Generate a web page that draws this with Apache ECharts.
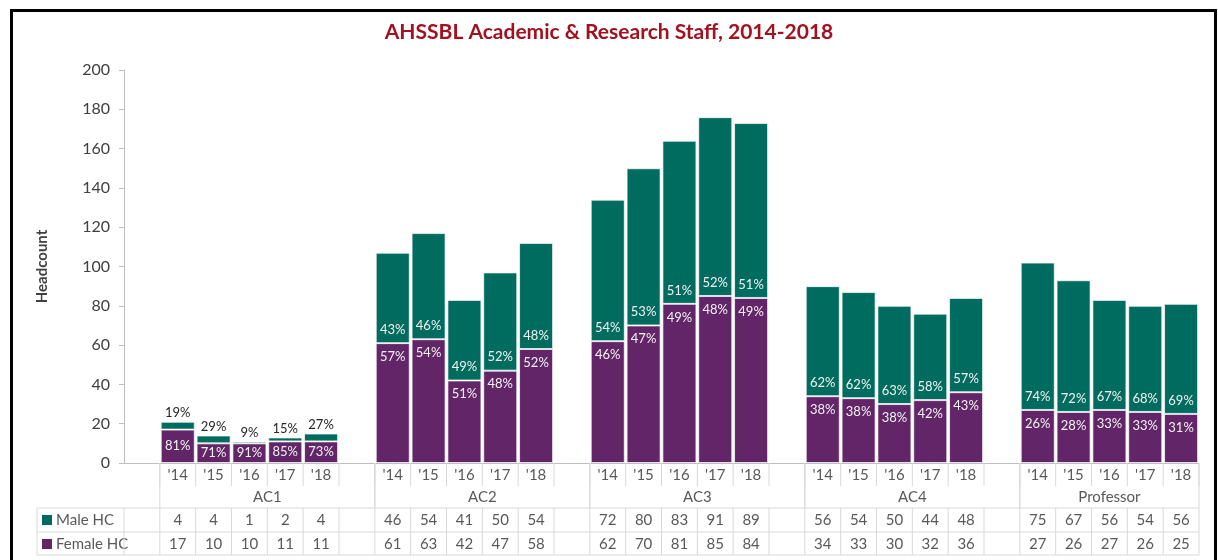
<!DOCTYPE html>
<html>
<head>
<meta charset="utf-8">
<script src="https://cdn.jsdelivr.net/npm/echarts@6/dist/echarts.min.js"></script>
<style>
  html, body { margin: 0; padding: 0; background: #fff; }
  #main { width: 1218px; height: 560px; }
</style>
</head>
<body>
<div id="main"></div>
<script>
var groups = ['AC1', 'AC2', 'AC3', 'AC4', 'Professor'];
var years = ["'14", "'15", "'16", "'17", "'18"];
var maleHC = [4, 4, 1, 2, 4, 46, 54, 41, 50, 54, 72, 80, 83, 91, 89, 56, 54, 50, 44, 48, 75, 67, 56, 54, 56];
var femaleHC = [17, 10, 10, 11, 11, 61, 63, 42, 47, 58, 62, 70, 81, 85, 84, 34, 33, 30, 32, 36, 27, 26, 27, 26, 25];
var malePct = [19, 29, 9, 15, 27, 43, 46, 49, 52, 48, 54, 53, 51, 52, 51, 62, 62, 63, 58, 57, 74, 72, 67, 68, 69];
var femalePct = [81, 71, 91, 85, 73, 57, 54, 51, 48, 52, 46, 47, 49, 48, 49, 38, 38, 38, 42, 43, 26, 28, 33, 33, 31];

var MALE = '#006b5f';
var FEMALE = '#622567';
var LINE = '#d9d9d9';
var TXT = '#595959';
var FONT = 'Lato, "Open Sans", sans-serif';

// grid geometry (px)
var W = 1218, H = 560;
var gLeft = 124, gRight = 19, gTop = 70, gBottom = 97;
var axisY = H - gBottom;

// slots: empty slot before AC1 and after every group except the last
var slots = ['gap0'];
var slotIdx = [];
slotIdx.push(-1);
groups.forEach(function (g, gi) {
  years.forEach(function (y, yi) {
    slots.push(g + ' ' + y);
    slotIdx.push(gi * years.length + yi);
  });
  if (gi < groups.length - 1) {
    slots.push('gap' + (gi + 1));
    slotIdx.push(-1);
  }
});

var maleData = slotIdx.map(function (k) {
  if (k < 0) return '-';
  var item = { value: maleHC[k] };
  if (k < years.length) {
    item.label = { position: 'top', color: '#262626', distance: 2 };
  }
  return item;
});
var femaleData = slotIdx.map(function (k) {
  if (k < 0) return '-';
  var item = { value: femaleHC[k] };
  if (k < years.length) {
    item.label = { position: 'inside' };
  }
  return item;
});

var slotW = (W - gLeft - gRight) / slots.length;
function sx(i) { return gLeft + i * slotW; }

// table lines and texts
var graphics = [];
function hline(x1, x2, y) {
  graphics.push({ type: 'line', shape: { x1: x1, y1: y, x2: x2, y2: y }, style: { stroke: LINE, lineWidth: 1 }, z: 1 });
}
function vline(x, y1, y2) {
  graphics.push({ type: 'line', shape: { x1: x, y1: y1, x2: x, y2: y2 }, style: { stroke: LINE, lineWidth: 1 }, z: 1 });
}
var rowYear = axisY + 23, rowGroup = 508, rowMale = 532, rowEnd = 555;
var tableLeft = 37;
hline(tableLeft, sx(slots.length), rowGroup);
hline(tableLeft, sx(slots.length), rowMale);
hline(tableLeft, sx(slots.length), rowEnd);
vline(tableLeft, rowGroup, rowEnd);
vline(gLeft, rowGroup, rowEnd);
for (var i = 1; i <= slots.length; i++) {
  vline(sx(i), axisY, rowYear);
  vline(sx(i), rowGroup, rowEnd);
}
var start = 1;
groups.forEach(function (g, gi) {
  var span = gi < groups.length - 1 ? years.length + 1 : years.length;
  vline(sx(start), axisY, rowGroup);
  vline(sx(start + span), axisY, rowGroup);
  graphics.push({
    type: 'text', x: sx(start) + span * slotW / 2, y: 497,
    style: { text: g, fill: TXT, font: '15px ' + FONT, align: 'center', verticalAlign: 'middle' }
  });
  start += span;
});
// legend keys in table
[['Male HC', MALE, 520], ['Female HC', FEMALE, 544]].forEach(function (r) {
  graphics.push({ type: 'rect', shape: { x: 42, y: r[2] - 5, width: 10, height: 10 }, style: { fill: r[1] } });
  graphics.push({
    type: 'text', x: 56, y: r[2],
    style: { text: r[0], fill: TXT, font: '15px ' + FONT, align: 'left', verticalAlign: 'middle' }
  });
});
// outer frame
graphics.push({
  type: 'rect', shape: { x: 11.5, y: 10.5, width: 1204, height: 560 },
  style: { fill: 'none', stroke: '#000', lineWidth: 3 }, z: 10
});

var chart = echarts.init(document.getElementById('main'));

function pctLabel(arr) {
  return function (p) {
    var k = slotIdx[p.dataIndex];
    return k < 0 ? '' : arr[k] + '%';
  };
}

var option = {
  animation: false,
  textStyle: { fontFamily: FONT },
  title: {
    text: 'AHSSBL Academic & Research Staff, 2014-2018',
    left: 'center',
    top: 17,
    textStyle: { color: '#a3101e', fontSize: 21, fontWeight: 'bold', fontFamily: FONT }
  },
  grid: { left: gLeft, right: gRight, top: gTop, bottom: gBottom, containLabel: false, outerBoundsMode: 'none' },
  xAxis: [
    {
      type: 'category', data: slots, position: 'bottom',
      axisLine: { lineStyle: { color: '#bfbfbf' } },
      axisTick: { show: false },
      axisLabel: {
        interval: 0, margin: 12, verticalAlign: 'middle', color: TXT, fontSize: 15,
        formatter: function (v, i) { var k = slotIdx[i]; return k < 0 ? '' : years[k % years.length]; }
      }
    },
    {
      type: 'category', data: slots, position: 'bottom',
      axisLine: { show: false }, axisTick: { show: false },
      axisLabel: {
        interval: 0, margin: 57, verticalAlign: 'middle', color: TXT, fontSize: 15,
        formatter: function (v, i) { var k = slotIdx[i]; return k < 0 ? '' : String(maleHC[k]); }
      }
    },
    {
      type: 'category', data: slots, position: 'bottom',
      axisLine: { show: false }, axisTick: { show: false },
      axisLabel: {
        interval: 0, margin: 81, verticalAlign: 'middle', color: TXT, fontSize: 15,
        formatter: function (v, i) { var k = slotIdx[i]; return k < 0 ? '' : String(femaleHC[k]); }
      }
    }
  ],
  yAxis: {
    type: 'value', min: 0, max: 200, interval: 20,
    name: 'Headcount', nameLocation: 'middle', nameGap: 74, nameRotate: 90,
    nameTextStyle: { color: '#404040', fontSize: 15, fontWeight: 'bold' },
    axisLine: { show: true, lineStyle: { color: '#bfbfbf' } },
    axisTick: { show: true, length: 5, lineStyle: { color: '#bfbfbf' } },
    axisLabel: { color: '#404040', fontSize: 16, margin: 14 },
    splitLine: { show: false }
  },
  series: [
    {
      name: 'Female HC', type: 'bar', stack: 'hc', data: femaleData,
      barCategoryGap: '5%',
      itemStyle: { color: FEMALE, borderColor: 'rgba(255,255,255,0.7)', borderWidth: 1 },
      label: {
        show: true, position: 'insideTop', distance: 7, color: '#f2f2f2', fontSize: 13,
        formatter: pctLabel(femalePct)
      }
    },
    {
      name: 'Male HC', type: 'bar', stack: 'hc', data: maleData,
      barCategoryGap: '5%',
      itemStyle: { color: MALE, borderColor: 'rgba(255,255,255,0.7)', borderWidth: 1 },
      label: {
        show: true, position: 'insideBottom', distance: 7, color: '#f2f2f2', fontSize: 13,
        formatter: pctLabel(malePct)
      }
    }
  ],
  graphic: graphics
};

option && chart.setOption(option);
</script>
</body>
</html>
